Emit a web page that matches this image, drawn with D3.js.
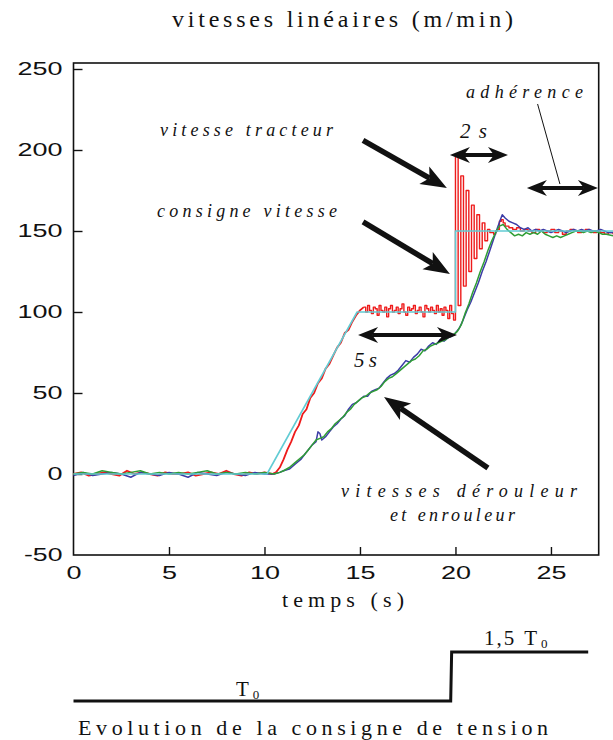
<!DOCTYPE html>
<html><head><meta charset="utf-8">
<script src="https://cdn.jsdelivr.net/npm/d3@7"></script>
<style>body{margin:0;background:#fff}svg{display:block}</style>
</head><body>
<svg id="c" width="613" height="740"></svg>
<script>
// ---------- DATA ----------
const yTicks = [-50, 0, 50, 100, 150, 200, 250];
const xTicks = [0, 5, 10, 15, 20, 25];

// consigne vitesse (cyan)
const consT = [0, 10.13, 14.85, 20.0, 20.0, 28.25];
const consV = [0, 0, 100, 100, 150, 150];

// vitesse tracteur (red) : start-up ramp
const redRampT = [0,0.4,0.8,1.2,1.6,2.0,2.4,2.8,3.2,3.6,4.0,4.4,4.8,5.2,5.6,6.0,6.4,6.8,7.2,7.6,8.0,8.4,8.8,9.2,9.6,10.0,10.4,
  10.6,10.8,11.0,11.2,11.4,11.6,11.8,12.0,12.2,12.4,12.6,12.8,13.0,13.2,13.4,13.6,13.8,14.0,14.2,14.4,14.6,14.8,15.0,15.2];
const redRampV = [0,1,-1,0,1,0,-1,2,0,1,0,-1,1,0,0,1,-1,0,1,0,2,0,-1,1,0,1,0,
  1,4,9,15,20,26,30,37,40,47,50,56,59,65,68,73,78,81,87,89,94,98,101,103];

// vitesse tracteur (red) : plateau, spike and settling
const redT = [15.2,15.3,15.4,15.5,15.6,15.7,15.8,15.9,16.0,16.1,16.2,16.3,16.4,16.5,16.6,16.7,16.8,16.9,17.0,17.1,17.2,17.3,17.4,17.5,17.6,17.7,17.8,17.9,18.0,18.1,18.2,18.3,18.4,18.5,18.6,18.7,18.8,18.9,19.0,19.1,19.2,19.3,19.4,19.5,19.6,19.7,19.8,19.9,
  20.0,20.14,20.28,20.42,20.56,20.7,20.84,20.98,21.12,21.26,21.4,21.54,
  21.68,21.8,22.0,22.1,22.2,22.3,22.4,22.5,22.6,22.8,23.0,23.2,23.4,23.6,23.8,24.0,24.2,24.4,24.6,24.8,25.0,25.2,25.4,25.6,25.8,26.0,26.2,26.4,26.6,26.8,27.0,27.2,27.4,27.6,27.8,28.0,28.25];
const redV = [103,100,104,101,99,103,102,98,104,101,100,103,97,102,104,100,101,103,99,102,105,100,98,103,101,102,104,99,101,103,100,97,104,102,100,103,101,99,104,100,102,98,103,101,96,104,99,95,
  196,104,184,116,175,125,166,133,160,139,155,144,
  151,149,148,150,151,156,157,155,153,152,151,152,150,151,150,149,151,150,149,150,151,149,150,148,150,151,150,149,150,151,150,149,150,149,148,149,148];

// vitesse dérouleur (blue)
const blueT = [0,0.5,1.0,1.5,2.0,2.5,3.0,3.5,4.0,4.5,5.0,5.5,6.0,6.5,7.0,7.5,8.0,8.5,9.0,9.5,10.0,
  10.5,10.8,11.0,11.3,11.6,11.9,12.1,12.3,12.5,12.7,12.8,12.9,13.0,13.2,13.4,13.6,13.8,14.0,14.2,14.4,14.6,14.8,15.0,15.2,15.4,15.6,15.8,16.0,16.2,16.4,16.6,16.8,17.0,17.2,17.4,17.6,17.8,18.0,18.2,18.4,18.6,18.8,19.0,19.2,19.4,19.6,19.8,20.0,
  20.2,20.4,20.6,20.8,21.0,21.2,21.4,21.6,21.8,22.0,22.2,22.35,22.45,22.6,22.8,23.0,23.2,23.4,23.6,23.8,24.0,24.2,24.4,24.6,24.8,25.0,25.2,25.4,25.6,25.8,26.0,26.2,26.4,26.6,26.8,27.0,27.2,27.4,27.6,27.8,28.0,28.25];
const blueV = [-1,1,-1,0,1,0,-2,1,0,-1,1,0,-2,1,0,-1,1,0,-1,1,0,
  0,1,2,3,6,9,12,15,18,20,26,25,21,23,26,29,31,34,36,40,43,44,46,48,48,51,52,53,56,59,61,62,64,67,70,69,72,74,77,76,79,81,80,83,82,84,85,87,
  90,95,101,106,112,118,125,131,138,145,152,157,160,158,156,155,154,152,151,152,150,151,150,151,150,149,150,151,150,149,150,151,150,151,150,151,150,150,151,150,149,149];

// vitesse enrouleur (green)
const greenT = [0,0.5,1.0,1.5,2.0,2.5,3.0,3.5,4.0,4.5,5.0,5.5,6.0,6.5,7.0,7.5,8.0,8.5,9.0,9.5,10.0,
  10.5,10.8,11.0,11.3,11.6,11.9,12.1,12.3,12.5,12.7,12.9,13.1,13.3,13.5,13.7,13.9,14.1,14.3,14.5,14.7,14.9,15.1,15.3,15.5,15.7,15.9,16.1,16.3,16.5,16.7,16.9,17.1,17.3,17.5,17.7,17.9,18.1,18.3,18.5,18.7,18.9,19.1,19.3,19.5,19.7,19.9,
  20.1,20.3,20.5,20.7,20.9,21.1,21.3,21.5,21.7,21.9,22.1,22.3,22.5,22.7,22.9,23.1,23.3,23.5,23.7,23.9,24.1,24.3,24.5,24.7,24.9,25.1,25.3,25.5,25.7,25.9,26.1,26.3,26.5,26.7,26.9,27.1,27.3,27.5,27.7,27.9,28.25];
const greenV = [0,1,0,2,1,0,1,2,0,1,0,1,0,1,2,0,1,0,1,0,1,
  0,1,2,4,7,10,12,15,18,21,22,23,26,28,31,33,35,38,40,43,45,47,48,50,51,52,54,57,59,60,62,64,66,68,70,71,73,76,77,79,80,81,82,83,85,86,
  88,92,99,105,112,118,125,131,138,144,149,153,154,151,149,147,148,147,149,148,149,148,150,148,147,146,147,146,147,148,149,150,150,149,150,149,150,149,148,148,147];

// consigne de tension (step)
const tensT = [0, 19.75, 19.8, 26.95];
const tensV = [1, 1, 1.5, 1.5];

// ---------- DRAW ----------
const svg = d3.select("#c");
const x = d3.scaleLinear().domain([0, 27.5]).range([73.5, 598.7]);
const y = d3.scaleLinear().domain([-50, 250]).range([555, 69]);
const yT = d3.scaleLinear().domain([1, 1.5]).range([701, 652]);

const serif = "'Liberation Serif','Times New Roman',serif";
const sans = "'Liberation Sans',Arial,sans-serif";

// frame
svg.append("rect").attr("x", x(0)).attr("y", 63).attr("width", x(27.5) - x(0)).attr("height", y(-50) - 63)
  .attr("fill", "none").attr("stroke", "#111").attr("stroke-width", 1.6);

// axes
function numLen(s){ let w=0; for(const ch of s){ w += ch==="-" ? 8.5 : 15; } return w; }
const gy = svg.append("g").attr("transform", `translate(${x(0)},0)`)
  .call(d3.axisLeft(y).tickValues(yTicks).tickSize(-9).tickPadding(11).tickFormat(d => String(d)));
const gx = svg.append("g").attr("transform", `translate(0,${y(-50)})`)
  .call(d3.axisBottom(x).tickValues(xTicks).tickSize(-8).tickPadding(11).tickFormat(d => String(d)));
[gy, gx].forEach(g => {
  g.select(".domain").remove();
  g.selectAll(".tick line").attr("stroke", "#111").attr("stroke-width", 1.4);
  g.selectAll(".tick text").attr("font-family", sans).attr("font-size", 18).attr("fill", "#111")
    .attr("textLength", function(){ return numLen(this.textContent); }).attr("lengthAdjust", "spacingAndGlyphs");
});
gy.selectAll(".tick").filter(d => d === -50).select("line").remove();
gx.selectAll(".tick").filter(d => d === 0).select("line").remove();

// series
function series(T, V, color, w, curve){
  const data = T.map((t, i) => [t, V[i]]);
  svg.append("path").datum(data)
    .attr("d", d3.line().x(d => x(d[0])).y(d => y(d[1])).curve(curve))
    .attr("fill", "none").attr("stroke", color).attr("stroke-width", w).attr("stroke-linejoin", "round");
}
series(redRampT, redRampV, "#ee1b1b", 1.8, d3.curveLinear);
series(redT, redV, "#ee1b1b", 1.4, d3.curveStepAfter);
series(blueT, blueV, "#3c3ca6", 1.5, d3.curveLinear);
series(greenT, greenV, "#2f9e35", 1.5, d3.curveLinear);
series(consT, consV, "#62ccd4", 1.6, d3.curveLinear);

// arrows
function head(g, tx, ty, ux, uy, L, W, N){
  const nx = -uy, ny = ux;
  const bx = tx - L*ux, by = ty - L*uy;
  g.append("path").attr("d",
    `M${tx},${ty}L${bx + W*nx},${by + W*ny}L${tx - (L-N)*ux},${ty - (L-N)*uy}L${bx - W*nx},${by - W*ny}Z`)
    .attr("fill", "#111");
}
function arrow(t0, v0, t1, v1){
  const x0 = x(t0), y0 = y(v0), x1 = x(t1), y1 = y(v1);
  const d = Math.hypot(x1-x0, y1-y0), ux = (x1-x0)/d, uy = (y1-y0)/d;
  const g = svg.append("g");
  const L = 26, W = 10, N = 6;
  g.append("line").attr("x1", x0).attr("y1", y0).attr("x2", x1 - (L-N)*ux).attr("y2", y1 - (L-N)*uy)
    .attr("stroke", "#111").attr("stroke-width", 5.5);
  head(g, x1, y1, ux, uy, L, W, N);
}
function dbl(t0, t1, v){
  const x0 = x(t0), x1 = x(t1), yy = y(v);
  const g = svg.append("g");
  const L = 20, W = 8, N = 6;
  g.append("line").attr("x1", x0 + (L-N)).attr("x2", x1 - (L-N)).attr("y1", yy).attr("y2", yy)
    .attr("stroke", "#111").attr("stroke-width", 4);
  head(g, x1, yy, 1, 0, L, W, N);
  head(g, x0, yy, -1, 0, L, W, N);
}
arrow(15.16, 206, 19.55, 176.5);
arrow(15.16, 155.6, 19.71, 123.5);
arrow(21.7, 3.7, 16.26, 47.5);
dbl(19.71, 22.75, 196.9);
dbl(23.74, 27.46, 176.5);
dbl(14.9, 20.08, 85.8);
svg.append("line").attr("x1", x(24.3)).attr("y1", y(228.4)).attr("x2", x(25.47)).attr("y2", y(179))
  .attr("stroke", "#111").attr("stroke-width", 1);

// texts
function txt(s, px, py, size, len, italic, anchor){
  return svg.append("text").attr("x", px).attr("y", py).attr("font-family", serif).attr("font-size", size)
    .attr("font-style", italic ? "italic" : "normal").attr("fill", "#111")
    .attr("text-anchor", anchor || "start")
    .attr("textLength", len).attr("lengthAdjust", "spacing").text(s);
}
txt("vitesses linéaires (m/min)", 172, 27, 24, 341, false);
txt("temps (s)", 282, 607, 22, 122, false);
txt("Evolution de la consigne de tension", 78, 735, 22, 470, false);
txt("vitesse tracteur", 160, 136, 18, 173, true);
txt("consigne vitesse", 157, 217, 18, 180, true);
txt("adhérence", 466, 98, 18, 117, true);
txt("2 s", 460, 138, 21, 27, true);
txt("5 s", 354, 367, 21, 23, true);
txt("vitesses dérouleur", 341, 497, 18, 236, true);
txt("et enrouleur", 390, 521, 18, 125, true);

// tension step
svg.append("path").datum(tensT.map((t, i) => [t, tensV[i]]))
  .attr("d", d3.line().x(d => x(d[0])).y(d => yT(d[1])))
  .attr("fill", "none").attr("stroke", "#111").attr("stroke-width", 3);
function tLabel(pre, px, py){
  const t = svg.append("text").attr("x", px).attr("y", py).attr("font-family", serif).attr("font-size", 21).attr("fill", "#111");
  if (pre) t.append("tspan").text(pre).attr("letter-spacing", 2);
  t.append("tspan").text("T").attr("dx", pre ? 8 : 0);
  t.append("tspan").text("0").attr("font-size", 13).attr("dx", 4).attr("dy", 3);
}
tLabel("", 236, 696);
tLabel("1,5", 484, 645);
</script>
</body></html>
